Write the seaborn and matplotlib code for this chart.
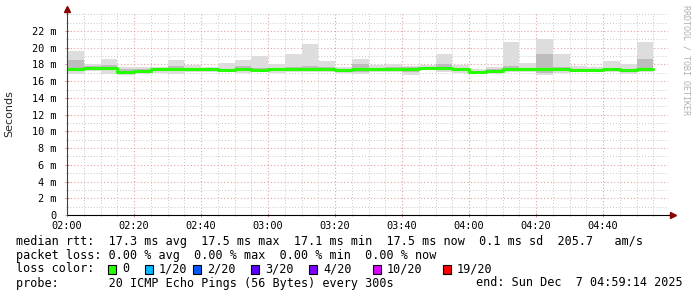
import numpy as np
import pandas as pd
import matplotlib
matplotlib.use("Agg")
import matplotlib.pyplot as plt
import seaborn as sns
from matplotlib.patches import Rectangle

# ---- data (ms), one value per 5-minute bin starting at 02:00 ----
bin_minutes = list(range(0, 175, 5))
median_rtt = [17.45, 17.55, 17.55, 17.1, 17.2, 17.4, 17.5, 17.4, 17.45, 17.3, 17.5, 17.3,
              17.4, 17.4, 17.5, 17.45, 17.3, 17.4, 17.45, 17.5, 17.5, 17.55, 17.55, 17.45,
              17.1, 17.2, 17.4, 17.4, 17.5, 17.4, 17.3, 17.3, 17.4, 17.3, 17.5]
smoke_max = [19.6, 18.0, 18.6, 17.7, 17.7, 17.7, 18.5, 17.9, 17.7, 18.2, 18.5, 19.0,
             18.1, 19.2, 20.4, 18.4, 17.7, 18.7, 17.9, 18.1, 17.8, 17.9, 19.2, 17.9,
             17.4, 17.7, 20.7, 18.2, 21.0, 19.3, 17.8, 17.7, 18.4, 18.1, 20.7]
smoke_min = [16.9, 17.2, 16.9, 16.7, 16.9, 17.0, 16.9, 17.05, 17.1, 17.1, 17.0, 17.1,
             17.0, 17.1, 17.1, 17.1, 17.0, 16.9, 17.1, 17.1, 16.7, 17.3, 17.1, 17.0,
             16.9, 16.9, 17.1, 17.1, 16.7, 17.0, 17.1, 17.1, 17.1, 16.9, 17.1]
inner_hi = [18.5, 17.8, 17.9, 17.4, 17.4, 17.6, 17.8, 17.6, 17.6, 17.5, 17.8, 17.6,
            17.6, 17.7, 17.8, 17.7, 17.5, 18.1, 17.6, 17.7, 17.7, 17.7, 18.0, 17.6,
            17.2, 17.4, 17.8, 17.6, 19.2, 17.7, 17.5, 17.5, 17.6, 17.5, 18.6]
inner_lo = [17.2, 17.4, 17.3, 16.9, 17.0, 17.2, 17.2, 17.2, 17.3, 17.2, 17.2, 17.2,
            17.2, 17.2, 17.3, 17.3, 17.1, 17.1, 17.3, 17.3, 17.1, 17.4, 17.4, 17.2,
            17.0, 17.0, 17.2, 17.2, 17.0, 17.2, 17.2, 17.2, 17.2, 17.1, 17.3]

x_tick_minutes = [0, 20, 40, 60, 80, 100, 120, 140, 160]
x_tick_labels = ["02:00", "02:20", "02:40", "03:00", "03:20", "03:40", "04:00", "04:20", "04:40"]
y_tick_values = [0, 2, 4, 6, 8, 10, 12, 14, 16, 18, 20, 22]
y_tick_labels = ["0", "2 m", "4 m", "6 m", "8 m", "10 m", "12 m", "14 m", "16 m", "18 m", "20 m", "22 m"]

loss_labels = ["0", "1/20", "2/20", "3/20", "4/20", "10/20", "19/20"]
loss_colors = ["#26ff00", "#00b8ff", "#0059ff", "#5e00ff", "#7e00ff", "#dd00ff", "#ff0000"]

# ---- figure ----
sns.set_theme(style="white")
plt.rcParams["font.family"] = ["DejaVu Sans Mono", "DejaVu Sans"]

W, H = 697, 297
fig = plt.figure(figsize=(W / 100, H / 100), dpi=100)
ax = fig.add_axes([67 / W, (H - 215) / H, (668 - 67) / W, (215 - 13) / H])

xs = bin_minutes + [bin_minutes[-1] + 5]
def ext(a):
    return list(a) + [a[-1]]

ax.fill_between(xs, ext(smoke_min), ext(smoke_max), step="post", color="#dddddd", lw=0, zorder=2)
ax.fill_between(xs, ext(inner_lo), ext(inner_hi), step="post", color="#bdbdbd", lw=0, zorder=3)

df = pd.DataFrame({"minute": xs, "rtt": ext(median_rtt)})
sns.lineplot(data=df, x="minute", y="rtt", ax=ax, color="#26ff00", lw=2.2,
             drawstyle="steps-post", estimator=None, zorder=5)

ax.set_xlim(0, 179.4)
ax.set_ylim(0, 24.15)

ax.set_xticks(x_tick_minutes)
ax.set_xticklabels(x_tick_labels)
ax.set_xticks(np.arange(0, 180, 5), minor=True)
ax.set_yticks(y_tick_values)
ax.set_yticklabels(y_tick_labels)
ax.set_yticks(np.arange(0, 25, 1), minor=True)

ax.grid(which="minor", color="#c8c8c8", linestyle=(0, (1, 2)), lw=0.7, zorder=0)
ax.grid(which="major", color="#e8a0a0", linestyle=(0, (1, 2)), lw=0.8, zorder=1)
ax.set_axisbelow(True)

ax.tick_params(axis="both", which="major", length=3, width=0.6, direction="inout",
               color="#d08080", labelsize=7.4, labelcolor="black", pad=2,
               bottom=True, left=True)
ax.tick_params(axis="both", which="minor", length=2, width=0.6, direction="inout",
               color="#b0b0b0", bottom=True, left=True)
ax.tick_params(axis="x", which="major", pad=3)
ax.tick_params(axis="y", which="major", pad=6)

ax.set_xlabel("")
ax.set_ylabel("Seconds", family="DejaVu Sans", fontsize=8)
ax.yaxis.set_label_coords(-0.087, 0.5)

for s in ["top", "right", "left"]:
    ax.spines[s].set_visible(False)
ax.spines["bottom"].set_color("black")
ax.spines["bottom"].set_linewidth(0.8)

# axis lines with arrows
ax.plot([0, 0], [0, 1.02], transform=ax.transAxes, color="#404040", lw=0.8, clip_on=False, zorder=6)
ax.plot([1.0, 1.008], [0, 0], transform=ax.transAxes, color="black", lw=0.8, clip_on=False, zorder=6)
ax.plot([0], [1.02], transform=ax.transAxes, marker="^", ms=4, color="#8b0000", clip_on=False, zorder=7)
ax.plot([1.008], [0], transform=ax.transAxes, marker=">", ms=4, color="#8b0000", clip_on=False, zorder=7)

# watermark
fig.text(686 / W, 1 - 5 / H, "RRDTOOL / TOBI OETIKER", rotation=270, ha="center", va="top",
         fontsize=6, color="#b0b0b0")

# ---- legend text ----
fs = 8.5
def ftext(x, y, s, **kw):
    fig.text(x / W, 1 - y / H, s, fontsize=fs, va="center", ha="left", color="black", **kw)

ftext(16, 241, "median rtt:  17.3 ms avg  17.5 ms max  17.1 ms min  17.5 ms now  0.1 ms sd  205.7   am/s")
ftext(16, 255, "packet loss: 0.00 % avg  0.00 % max  0.00 % min  0.00 % now")
ftext(16, 269, "loss color:")
ftext(16, 283, "probe:       20 ICMP Echo Pings (56 Bytes) every 300s")
fig.text(683 / W, 1 - 283 / H, "end: Sun Dec  7 04:59:14 2025", fontsize=fs, va="center",
         ha="right", color="black")

box_x = [108, 145, 193, 251, 309, 373, 443]
for bx, lab, col in zip(box_x, loss_labels, loss_colors):
    fig.patches.append(Rectangle((bx / W, 1 - 273.5 / H), 8 / W, 9 / H, transform=fig.transFigure,
                                 facecolor=col, edgecolor="black", lw=0.8))
    ftext(bx + 14, 269, lab)

fig.savefig("out.png", dpi=100, facecolor="white")
